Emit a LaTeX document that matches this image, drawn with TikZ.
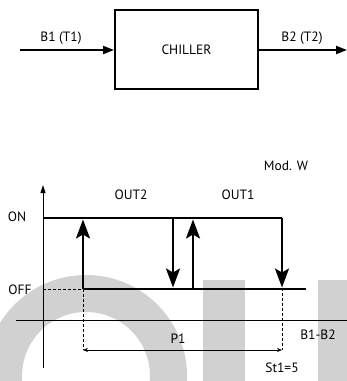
\documentclass[tikz,border=0pt]{standalone}
\usepackage{fontspec}
\setmainfont{PT Sans}
\usetikzlibrary{arrows.meta}
\begin{document}
\begin{tikzpicture}[x=1pt,y=-1pt,
  lbl/.style={inner sep=0pt, font=\fontsize{13.5}{15}\selectfont},
  wm/.style={fill=black!18},
  flow/.style={line width=2pt, -{Triangle[length=11pt,width=8pt]}},
  thickln/.style={line width=2.4pt},
  bigarrow/.style={line width=2.4pt, -{Stealth[length=19pt,width=14pt,inset=4pt]}},
  axis/.style={line width=0.9pt},
  dashln/.style={line width=0.8pt, dash pattern=on 3pt off 2pt},
  dim/.style={line width=0.7pt, {Stealth[length=5pt,width=4pt]}-{Stealth[length=5pt,width=4pt]}}]
\useasboundingbox (0,0) rectangle (347,381);
% watermark
\begin{scope}
\clip (0,0) rectangle (347,381);
\fill[wm, even odd rule] (86,376) circle (101pt) (86,376) circle (64pt);
\fill[wm] (203,280) rectangle (245,381);
\fill[wm] (318,280) rectangle (347,381);
\end{scope}
% top block
\node[draw, line width=2pt, minimum width=143pt, minimum height=79pt, inner sep=0pt, lbl] (ch) at (186.5,49.5) {CHILLER};
\coordinate (in) at (20,50);
\coordinate (out) at (347,50);
\draw[flow] (in) -- (ch.west |- in);
\draw[flow] (ch.east |- out) -- (out);
\node[lbl] (b1) at (61,38) {B1 (T1)};
\node[lbl] (b2) at (302,38) {B2 (T2)};
% graph
\node[lbl] (mod) at (286,166) {Mod. W};
\coordinate (ya) at (43,368);
\coordinate (yb) at (43,185);
\draw[axis, -{Triangle[length=8pt,width=5pt]}] (ya) -- (yb);
\coordinate (xa) at (16,320);
\coordinate (xb) at (347,320);
\draw[axis] (xa) -- (xb);
\node[lbl] (on) at (17,217) {ON};
\node[lbl] (off) at (20,290) {OFF};
\node[lbl] (out2) at (131,195) {OUT2};
\node[lbl] (out1) at (238,195) {OUT1};
\node[lbl] (b12) at (318,335) {B1-B2};
\node[lbl] (p1) at (178,339) {P1};
\node[lbl] (st) at (282,368) {St1=5};
% levels
\coordinate (on0) at (43,218);
\coordinate (on1) at (282,218);
\coordinate (off0) at (83,289);
\coordinate (off1) at (306,289);
\coordinate (offax) at (43,289);
\draw[thickln] (on0) -- (on1);
\draw[thickln] (off0) -- (off1);
\draw[dashln] (offax) -- (off0);
% switching arrows
\coordinate (u1a) at (83,289);  \coordinate (u1b) at (83,219.5);
\coordinate (d1a) at (173,218); \coordinate (d1b) at (173,287.5);
\coordinate (u2a) at (193,289); \coordinate (u2b) at (193,219.5);
\coordinate (d2a) at (282,218); \coordinate (d2b) at (282,287.5);
\draw[bigarrow] (u1a) -- (u1b);
\draw[bigarrow] (d1a) -- (d1b);
\draw[bigarrow] (u2a) -- (u2b);
\draw[bigarrow] (d2a) -- (d2b);
% dimension
\coordinate (p1a) at (83,350);
\coordinate (p1b) at (282,350);
\draw[dashln] (off0) -- (p1a);
\draw[dashln] (d2b) -- (p1b);
\draw[dim] (p1a) -- (p1b);
\end{tikzpicture}
\end{document}
